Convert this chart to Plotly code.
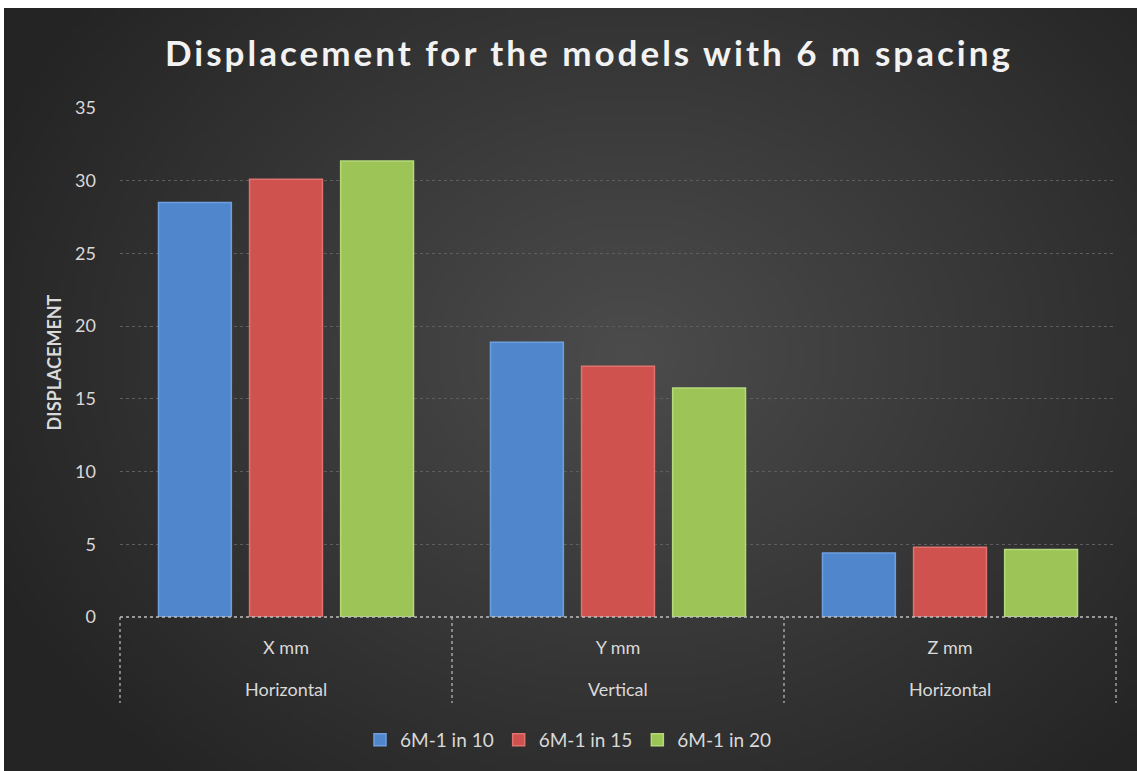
import base64, struct, zlib
import numpy as np
import plotly.graph_objects as go

# ---------------- data ----------------
directions = ["X mm", "Y mm", "Z mm"]
orientations = ["Horizontal", "Vertical", "Horizontal"]
series_names = ["6M-1 in 10", "6M-1 in 15", "6M-1 in 20"]
vals_1in10 = [28.5, 18.9, 4.4]
vals_1in15 = [30.1, 17.25, 4.8]
vals_1in20 = [31.35, 15.75, 4.65]
y_ticks = [0, 5, 10, 15, 20, 25, 30, 35]
title_text = "Displacement for the models with 6 m spacing"

colors = ["#4F86CC", "#CF524E", "#9CC457"]
edge_colors = ["#6E9FDF", "#E07370", "#B4D97A"]

FONT = "Lato"

# ---------------- background gradient image ----------------
def make_png(w, h):
    yy, xx = np.mgrid[0:h, 0:w]
    cx, cy = w * 0.55, h * 0.45
    d = np.sqrt(((xx - cx) / (w * 0.62)) ** 2 + ((yy - cy) / (h * 0.75)) ** 2)
    d = np.clip(d, 0, 1)
    inner, outer = 76, 36
    v = (inner + (outer - inner) * d).astype(np.uint8)
    raw = b"".join(b"\x00" + bytes(np.repeat(row, 3)) for row in v)
    def chunk(t, data):
        c = struct.pack(">I", len(data)) + t + data
        return c + struct.pack(">I", zlib.crc32(t + data) & 0xffffffff)
    png = b"\x89PNG\r\n\x1a\n"
    png += chunk(b"IHDR", struct.pack(">IIBBBBB", w, h, 8, 2, 0, 0, 0))
    png += chunk(b"IDAT", zlib.compress(raw, 9))
    png += chunk(b"IEND", b"")
    return "data:image/png;base64," + base64.b64encode(png).decode()

bg = make_png(240, 160)

W, H = 1137, 771
L, R, T, B = 120, 21, 108, 154
plot_h = H - T - B

fig = go.Figure()
for name, vals, c, ec in zip(series_names, [vals_1in10, vals_1in15, vals_1in20], colors, edge_colors):
    fig.add_trace(go.Bar(
        x=directions, y=vals, name=name,
        marker=dict(color=c, line=dict(color=ec, width=1.5)),
    ))

div_bottom = -(703 - 617) / plot_h
shapes = []
shapes.append(dict(type="line", xref="paper", yref="paper", x0=0, x1=1, y0=0, y1=0,
                   line=dict(color="#BFBFBF", width=1.5, dash="dot"), layer="above"))
for k in range(4):
    shapes.append(dict(type="line", xref="paper", yref="paper", x0=k / 3, x1=k / 3,
                       y0=0, y1=div_bottom, line=dict(color="#BFBFBF", width=1.2, dash="dot")))

annotations = []
for d, o in zip(directions, orientations):
    annotations.append(dict(x=d, xref="x", y=-(689 - 617) / plot_h, yref="paper",
                            text=o, showarrow=False, xanchor="center", yanchor="middle",
                            font=dict(family=FONT, size=18, color="#D9D9D9")))

fig.update_layout(
    width=W, height=H,
    margin=dict(l=L, r=R, t=T, b=B, autoexpand=False),
    paper_bgcolor="white",
    plot_bgcolor="rgba(0,0,0,0)",
    images=[dict(source=bg, xref="paper", yref="paper",
                 x=-(L - 4) / (W - L - R), y=1 + (T - 8) / plot_h,
                 sizex=(W - 4) / (W - L - R), sizey=(H - 8) / plot_h,
                 xanchor="left", yanchor="top", sizing="stretch", layer="below")],
    title=dict(text=f"<b><span style='letter-spacing:3px'>{title_text}</span></b>",
               x=0.518, xref="container", xanchor="center",
               y=1 - 54 / H, yref="container", yanchor="middle",
               font=dict(family=FONT, size=35, color="#F2F2F2")),
    barmode="group", bargap=0.177, bargroupgap=0.2,
    font=dict(family=FONT, color="#D9D9D9", size=18),
    yaxis=dict(range=[0, 35], tickvals=y_ticks, showgrid=True, gridcolor="#5E5E5E",
               griddash="dot", gridwidth=1, zeroline=False, showline=False,
               ticks="", ticklabelstandoff=23,
               tickfont=dict(family=FONT, size=18, color="#D9D9D9"),
               title=dict(text="<b>DISPLACEMENT</b>", standoff=8,
                          font=dict(family=FONT, size=18, color="#D9D9D9"))),
    xaxis=dict(showline=False, ticks="", ticklabelstandoff=18,
               tickfont=dict(family=FONT, size=18, color="#D9D9D9"), showgrid=False),
    legend=dict(orientation="h", xref="container", x=0.5, xanchor="center",
                yref="container", y=1 - 740 / H, yanchor="middle",
                font=dict(family=FONT, size=19, color="#D9D9D9"), bgcolor="rgba(0,0,0,0)",
                itemwidth=30, tracegroupgap=0),
    shapes=shapes,
    annotations=annotations,
)

fig.write_html("out.html")
